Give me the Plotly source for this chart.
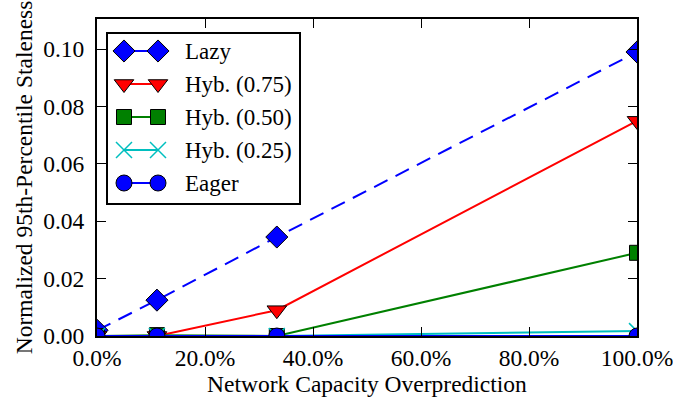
import plotly.graph_objects as go

# Network capacity overprediction (percent) at which each policy was measured
overprediction = [0.0, 11.1, 33.3, 100.0]

lazy = [0.002, 0.0125, 0.0345, 0.099]
hyb_075 = [0.0, 0.0, 0.009, 0.075]
hyb_050 = [0.0, 0.0003, 0.0, 0.029]
hyb_025 = [0.0, 0.0, 0.0, 0.0017]
eager = [0.0, 0.0, 0.0, 0.0]

x_ticks = [0, 20, 40, 60, 80, 100]
x_tick_labels = ["0.0%", "20.0%", "40.0%", "60.0%", "80.0%", "100.0%"]
y_ticks = [0.0, 0.02, 0.04, 0.06, 0.08, 0.10]
y_tick_labels = ["0.00", "0.02", "0.04", "0.06", "0.08", "0.10"]

series = [
    ("Lazy", lazy, "#0000ff", "15px,9px", "diamond", 17),
    ("Hyb. (0.75)", hyb_075, "#ff0000", "solid", "triangle-down", 17),
    ("Hyb. (0.50)", hyb_050, "#008000", "solid", "square", 15),
    ("Hyb. (0.25)", hyb_025, "#00bfbf", "solid", "x-thin", 16),
    ("Eager", eager, "#0000ff", "solid", "circle", 16),
]

FONT = "Liberation Serif"


def marker_style(color, symbol, size):
    if symbol == "x-thin":
        return dict(symbol=symbol, size=size, color=color,
                    line=dict(color=color, width=1.5))
    return dict(symbol=symbol, size=size, color=color,
                line=dict(color="black", width=1))


fig = go.Figure()
for name, values, color, dash, symbol, size in series:
    fig.add_trace(go.Scatter(
        x=overprediction, y=values, name=name, mode="lines+markers",
        line=dict(color=color, width=2, dash=dash),
        marker=marker_style(color, symbol, size),
        cliponaxis=True, showlegend=False,
    ))

# Legend drawn on a pixel-scaled overlay so each key shows a line between two markers
leg_left, leg_right, leg_top, leg_bottom = 107, 300, 33, 204
leg_rows = [51, 84, 117, 150, 183]
key_x = [124, 158]
text_x = 183

for (name, values, color, dash, symbol, size), row in zip(series, leg_rows):
    fig.add_trace(go.Scatter(
        x=key_x, y=[row, row], mode="lines+markers", xaxis="x2", yaxis="y2",
        line=dict(color=color, width=2, dash="solid"),
        marker=marker_style(color, symbol, size),
        showlegend=False, hoverinfo="skip",
    ))
    fig.add_annotation(
        x=text_x, y=row, xref="x2", yref="y2", text=name, showarrow=False,
        xanchor="left", yanchor="middle",
        font=dict(family=FONT, size=23, color="black"),
    )

fig.add_shape(type="rect", xref="x2", yref="y2",
              x0=leg_left, x1=leg_right, y0=leg_top, y1=leg_bottom,
              line=dict(color="black", width=2), fillcolor="white",
              layer="below")

axis_common = dict(
    showline=True, linecolor="black", linewidth=2, mirror="ticks",
    ticks="inside", ticklen=9, tickwidth=1, tickcolor="black",
    showgrid=False, zeroline=False, ticklabeloverflow="allow",
    automargin=False,
    tickfont=dict(family=FONT, size=23.5, color="black"),
)

fig.update_layout(
    width=673, height=404,
    margin=dict(l=97, r=36, t=19, b=68, autoexpand=False),
    paper_bgcolor="white", plot_bgcolor="white",
    font=dict(family=FONT, color="black"),
    xaxis=dict(range=[0, 100], tickvals=x_ticks, ticktext=x_tick_labels,
               title=dict(text="Network Capacity Overprediction",
                          font=dict(family=FONT, size=23.5), standoff=4),
               **axis_common),
    yaxis=dict(range=[0, 0.1105], tickvals=y_ticks, ticktext=y_tick_labels,
               ticklabelstandoff=6,
               title=dict(text="Normalized 95th-Percentile Staleness",
                          font=dict(family=FONT, size=23.5), standoff=4),
               **axis_common),
    xaxis2=dict(overlaying="x", range=[97, 637], visible=False),
    yaxis2=dict(overlaying="y", range=[336, 19], visible=False),
    showlegend=False,
)

fig.write_html("out.html")
